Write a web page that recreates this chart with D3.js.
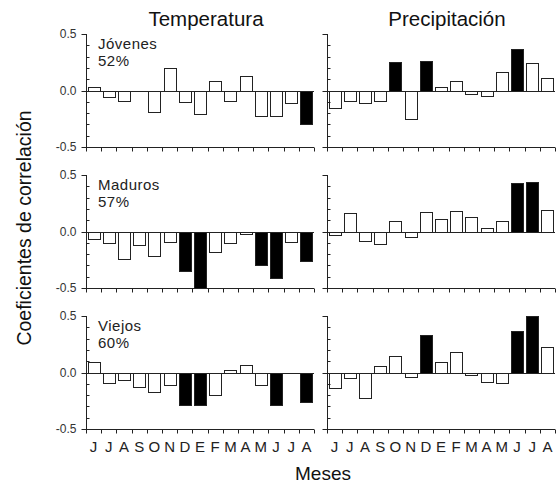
<!DOCTYPE html>
<html><head><meta charset="utf-8">
<script src="https://cdn.jsdelivr.net/npm/d3@7"></script>
<style>body{margin:0;background:#fff}svg{display:block;font-family:"Liberation Sans",Arial,sans-serif}</style>
</head><body><svg id="c" width="557" height="485"></svg>
<script>
const months = ["J","J","A","S","O","N","D","E","F","M","A","M","J","J","A"];
const columns = ["Temperatura","Precipitación"];
const groups = ["Jóvenes","Maduros","Viejos"];
const percents = ["52%","57%","60%"];
const yTickLabels = ["0.5","0.0","-0.5"];

const tempJovenes = [0.03,-0.06,-0.095,0,-0.19,0.20,-0.10,-0.21,0.08,-0.095,0.13,-0.23,-0.23,-0.11,-0.30];
const tempJovenesSig = [0,0,0,0,0,0,0,0,0,0,0,0,0,0,1];
const precJovenes = [-0.155,-0.09,-0.11,-0.09,0.25,-0.25,0.26,0.03,0.08,-0.035,-0.05,0.16,0.37,0.24,0.11];
const precJovenesSig = [0,0,0,0,1,0,1,0,0,0,0,0,1,0,0];
const tempMaduros = [-0.07,-0.10,-0.24,-0.12,-0.22,-0.095,-0.35,-0.50,-0.18,-0.10,-0.025,-0.30,-0.41,-0.095,-0.26];
const tempMadurosSig = [0,0,0,0,0,0,1,1,0,0,0,1,1,0,1];
const precMaduros = [-0.035,0.16,-0.08,-0.115,0.09,-0.05,0.17,0.11,0.18,0.13,0.03,0.09,0.43,0.44,0.19];
const precMadurosSig = [0,0,0,0,0,0,0,0,0,0,0,0,1,1,0];
const tempViejos = [0.09,-0.09,-0.07,-0.13,-0.17,-0.11,-0.285,-0.285,-0.20,0.025,0.07,-0.115,-0.285,0,-0.265];
const tempViejosSig = [0,0,0,0,0,0,1,1,0,0,0,0,1,0,1];
const precViejos = [-0.14,-0.05,-0.225,0.055,0.145,-0.04,0.335,0.09,0.18,-0.025,-0.08,-0.09,0.37,0.50,0.225];
const precViejosSig = [0,0,0,0,0,0,1,0,0,0,0,0,1,1,0];

const panels = [
  [tempJovenes,tempJovenesSig,precJovenes,precJovenesSig],
  [tempMaduros,tempMadurosSig,precMaduros,precMadurosSig],
  [tempViejos,tempViejosSig,precViejos,precViejosSig]
];

const svg = d3.select("#c");
const colX = [86, 327], panelW = 228;
const rowY = [34, 175, 316], panelH = 113;
const ink = "#222";

rowY.forEach((top, r) => {
  colX.forEach((left, c) => {
    const vals = panels[r][c*2], sig = panels[r][c*2+1];
    const x = d3.scaleBand().domain(d3.range(months.length)).range([left, left+panelW]).paddingInner(0.2).paddingOuter(0.1);
    const y = d3.scaleLinear().domain([-0.5, 0.5]).range([top+panelH, top]);
    const g = svg.append("g");
    g.append("line").attr("x1", left).attr("x2", left+panelW).attr("y1", Math.round(y(0))+0.5).attr("y2", Math.round(y(0))+0.5)
      .attr("stroke", ink).attr("stroke-width", 1);
    g.selectAll("rect").data(vals).join("rect")
      .attr("x", (d,i) => Math.round(x(i)) + 0.5)
      .attr("width", Math.round(x.bandwidth()))
      .attr("y", d => Math.round(y(Math.max(0,d))) + 0.5)
      .attr("height", d => Math.abs(Math.round(y(d)) - Math.round(y(0))))
      .attr("fill", (d,i) => sig[i] ? "#000" : "#fff")
      .attr("stroke", ink).attr("stroke-width", 1);
    const ya = g.append("g").attr("transform", `translate(${left+0.5},0)`);
    ya.append("line").attr("y1", y(0.5)).attr("y2", y(-0.5)).attr("stroke", ink);
    d3.range(-5, 6).forEach(k => {
      const v = k/10, yy = Math.round(y(v)) + 0.5;
      if (k % 5 === 0) {
        ya.append("line").attr("x1", -5).attr("x2", 0).attr("y1", yy).attr("y2", yy).attr("stroke", ink);
      } else {
        ya.append("line").attr("x1", 0).attr("x2", 3).attr("y1", yy).attr("y2", yy).attr("stroke", ink);
      }
    });
    if (c === 0) {
      [0.5, 0, -0.5].forEach((v, k) => {
        ya.append("text").attr("x", -10).attr("y", y(v)).attr("dy", "0.35em")
          .attr("text-anchor", "end").attr("font-size", 12).attr("fill", "#333").text(yTickLabels[k]);
      });
      g.append("text").attr("x", left + 12).attr("y", top + 15).attr("font-size", 15).attr("letter-spacing", 0.5).attr("fill", "#222").text(groups[r]);
      g.append("text").attr("x", left + 12).attr("y", top + 32).attr("font-size", 15).attr("letter-spacing", 0.5).attr("fill", "#222").text(percents[r]);
    }
    const xa = g.append("g");
    const yb = Math.round(y(-0.5)) + 0.5;
    xa.append("line").attr("x1", left).attr("x2", left+panelW).attr("y1", yb).attr("y2", yb).attr("stroke", ink);
    d3.range(months.length + 1).forEach(i => {
      const xx = Math.round(left + i * panelW / months.length) + 0.5;
      xa.append("line").attr("x1", xx).attr("x2", xx).attr("y1", yb).attr("y2", yb + 4).attr("stroke", ink);
    });
    if (r === 2) {
      months.forEach((m, i) => {
        xa.append("text").attr("x", left + (i + 0.5) * panelW / months.length).attr("y", yb + 22)
          .attr("text-anchor", "middle").attr("font-size", 15).attr("fill", "#222").text(m);
      });
    }
    if (r === 0) {
      svg.append("text").attr("x", left + panelW/2 + 6).attr("y", 26).attr("text-anchor", "middle")
        .attr("font-size", 20.5).attr("fill", "#111").text(columns[c]);
    }
  });
});

svg.append("text").attr("transform", "translate(31,228) rotate(-90)").attr("text-anchor", "middle")
  .attr("font-size", 19.5).attr("fill", "#111").text("Coeficientes de correlación");
svg.append("text").attr("x", 323).attr("y", 480).attr("text-anchor", "middle")
  .attr("font-size", 19).attr("fill", "#111").text("Meses");
</script></body></html>
